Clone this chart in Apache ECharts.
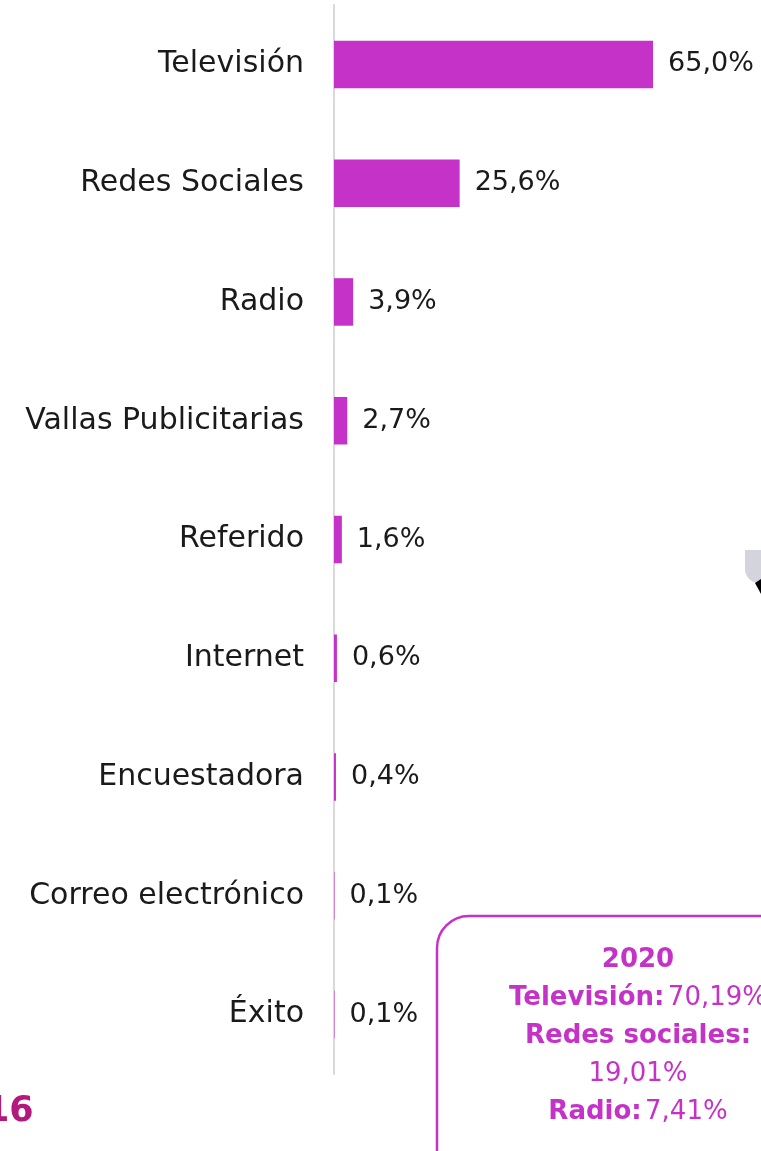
<!DOCTYPE html>
<html>
<head>
<meta charset="utf-8">
<script src="https://cdn.jsdelivr.net/npm/echarts@6/dist/echarts.min.js"></script>
<style>
html,body{margin:0;padding:0;background:#fff;}
#chart{width:761px;height:1151px;}
</style>
</head>
<body>
<div id="chart"></div>
<script>
const categories = ["Televisión","Redes Sociales","Radio","Vallas Publicitarias","Referido","Internet","Encuestadora","Correo electrónico","Éxito"];
const values = [65.0, 25.6, 3.9, 2.7, 1.6, 0.6, 0.4, 0.1, 0.1];
const boxYear = "2020";
const boxItems = [["Televisión:", "70,19%"], ["Redes sociales:", "19,01%"], ["Radio:", "7,41%"]];
const pageNumber = "16";

const FONT = "'DejaVu Sans', sans-serif";
const MAG = "#C532C8";

const chart = echarts.init(document.getElementById('chart'), null, {renderer:'canvas'});
const fmt = v => v.toFixed(1).replace('.', ',') + '%';

chart.setOption({
  animation: false,
  backgroundColor: '#fff',
  grid: {left: 334, right: 0, top: 5, bottom: 77, containLabel: false},
  xAxis: {type: 'value', min: 0, max: 87, show: false},
  yAxis: {
    type: 'category', data: categories, inverse: true,
    axisLine: {show: true, lineStyle: {color: '#d9d9d9', width: 2}},
    axisTick: {show: false},
    axisLabel: {color: '#1a1a1a', fontSize: 30, fontFamily: FONT, margin: 30}
  },
  series: [{
    type: 'bar', data: values, barCategoryGap: '60%',
    itemStyle: {color: MAG},
    label: {show: true, position: 'right', distance: 15, color: '#1a1a1a', fontSize: 27, fontFamily: FONT,
      formatter: p => fmt(p.value)}
  }],
  graphic: [
    {type: 'rect', shape: {x: 437, y: 916, width: 400, height: 300, r: [32, 0, 0, 0]},
      style: {fill: 'none', stroke: MAG, lineWidth: 2.5}},
    {type: 'text', x: 638, y: 941, style: {
      text: '{b|' + boxYear + '}\n' +
        '{b|' + boxItems[0][0] + '} {n|' + boxItems[0][1] + '}\n' +
        '{b|' + boxItems[1][0] + '}\n{n|' + boxItems[1][1] + '}\n' +
        '{b|' + boxItems[2][0] + '} {n|' + boxItems[2][1] + '}',
      align: 'center', verticalAlign: 'top', lineHeight: 38,
      rich: {
        b: {fontSize: 26, fontWeight: 'bold', fill: MAG, fontFamily: FONT, lineHeight: 38},
        n: {fontSize: 26, fill: MAG, fontFamily: FONT, lineHeight: 38}
      }
    }},
    {type: 'text', x: -15, y: 1094, style: {text: pageNumber, fontSize: 35, fontWeight: 'bold', fill: '#B3197D', fontFamily: FONT}},
    {type: 'rect', shape: {x: 745, y: 550, width: 20, height: 33, r: [0, 0, 0, 14]}, style: {fill: '#d4d4dc'}},
    {type: 'polygon', shape: {points: [[755, 583], [761, 579], [761, 594]]}, style: {fill: '#000'}}
  ]
});
</script>
</body>
</html>
